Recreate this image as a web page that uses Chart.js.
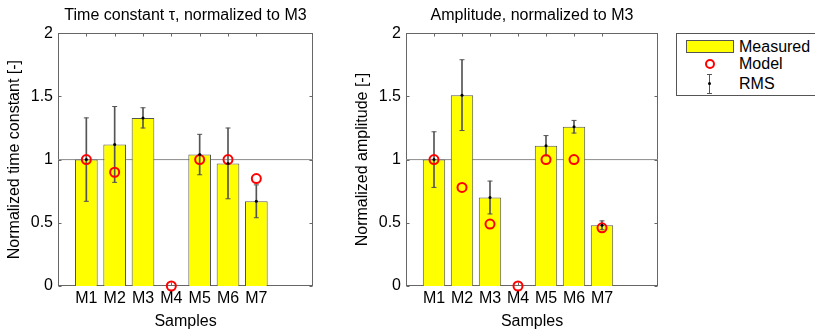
<!DOCTYPE html>
<html>
<head>
<meta charset="utf-8">
<script src="https://cdn.jsdelivr.net/npm/chart.js@4.4.1/dist/chart.umd.min.js"></script>
<style>
  body { margin: 0; background: #fff; width: 815px; height: 331px; position: relative; overflow: hidden;
         font-family: "Liberation Sans", Arial, sans-serif; }
  .plot { position: absolute; top: 0; height: 331px; }
  #legend { position: absolute; left: 676px; top: 33px; width: 150px; height: 63px;
            border: 1px solid #555; box-sizing: border-box; background: #fff; }
  #legend .lbl { position: absolute; left: 62px; font-size: 16px; line-height: 18px; color: #000; }
  #legend .bar { position: absolute; left: 9px; top: 6px; width: 48px; height: 13px;
                 background: #ffff00; border: 1px solid #555; box-sizing: border-box; }
  #legend .ring { position: absolute; left: 28px; top: 25px; width: 10px; height: 10px;
                  border: 2px solid #ff0000; border-radius: 50%; box-sizing: border-box; }
  #legend .stem { position: absolute; left: 32px; top: 40px; width: 1px; height: 20px; background: #555; }
  #legend .cap { position: absolute; left: 30px; width: 5px; height: 1px; background: #555; }
  #legend .dot { position: absolute; left: 31px; top: 48px; width: 3px; height: 3px; background: #000; border-radius: 50%; }
</style>
</head>
<body>
<div class="plot" style="left:0;width:330px"><canvas id="tauChart"></canvas></div>
<div class="plot" style="left:348px;width:320px"><canvas id="ampChart"></canvas></div>
<div id="legend">
  <span class="bar"></span><span class="lbl" style="top:4px">Measured</span>
  <span class="ring"></span><span class="lbl" style="top:21px">Model</span>
  <span class="stem"></span><span class="cap" style="top:40px"></span><span class="cap" style="top:59px"></span>
  <span class="dot"></span><span class="lbl" style="top:41px">RMS</span>
</div>
<script>
// sample names and tick values
const samples = ['M1', 'M2', 'M3', 'M4', 'M5', 'M6', 'M7'];
const yTicks = [0, 0.5, 1, 1.5, 2];

// time constant, normalized to M3
const tauMeasured = [1.0, 1.12, 1.33, 0, 1.04, 0.97, 0.67];
const tauRms      = [0.33, 0.30, 0.08, null, 0.16, 0.28, 0.13];
const tauModel    = [1.0, 0.90, null, 0, 1.0, 1.0, 0.85];

// amplitude, normalized to M3
const ampMeasured = [1.0, 1.51, 0.70, 0, 1.11, 1.26, 0.48];
const ampRms      = [0.22, 0.28, 0.13, null, 0.08, 0.05, 0.035];
const ampModel    = [1.0, 0.78, 0.49, 0, 1.0, 1.0, 0.46];

Chart.defaults.font.family = '"Liberation Sans", Arial, sans-serif';
Chart.defaults.font.size = 16;
Chart.defaults.color = '#000';

// matlab-like box with inward tick marks, title centred over the axes
const boxPlugin = {
    id: 'box',
    afterLayout(chart) {
        const tb = chart.titleBlock;
        if (tb) {
            tb.left = chart.chartArea.left;
            tb.right = chart.chartArea.right;
            tb.width = tb.right - tb.left;
        }
    },
    beforeDatasetsDraw(chart) {
        const { ctx, chartArea: a, scales } = chart;
        ctx.save();
        ctx.strokeStyle = '#666';
        ctx.lineWidth = 1;
        const l = Math.round(a.left) + 0.5, r = Math.round(a.right) - 0.5;
        const t = Math.round(a.top) + 0.5, b = Math.round(a.bottom) - 0.5;
        ctx.strokeRect(l, t, r - l, b - t);
        ctx.beginPath();
        scales.y.ticks.forEach(tk => {
            const y = Math.round(scales.y.getPixelForValue(tk.value)) + 0.5;
            ctx.moveTo(l, y); ctx.lineTo(l + 3, y);
            ctx.moveTo(r, y); ctx.lineTo(r - 3, y);
        });
        scales.x.ticks.forEach(tk => {
            const x = Math.round(scales.x.getPixelForValue(tk.value)) + 0.5;
            ctx.moveTo(x, b); ctx.lineTo(x, b - 3);
            ctx.moveTo(x, t); ctx.lineTo(x, t + 3);
        });
        ctx.stroke();
        ctx.restore();
    }
};

function makeChart(id, title, yTitle, measured, rms, model, padRight) {
    const bars = samples.map((s, i) => ({ x: i + 1, y: measured[i] }));
    const whiskers = [], caps = [], dots = [];
    samples.forEach((s, i) => {
        if (rms[i] == null) return;
        whiskers.push({ x: i + 1, y: [measured[i] - rms[i], measured[i] + rms[i]] });
        caps.push({ x: i + 1, y: measured[i] - rms[i] }, { x: i + 1, y: measured[i] + rms[i] });
        dots.push({ x: i + 1, y: measured[i] });
    });
    const modelPts = samples.map((s, i) => ({ x: i + 1, y: model[i] })).filter(p => p.y != null);

    return new Chart(document.getElementById(id), {
        data: {
            datasets: [
                {   // reference line at 1
                    type: 'line', data: [{ x: 0, y: 1 }, { x: 9, y: 1 }],
                    borderColor: '#8c8c8c', borderWidth: 1, pointRadius: 0, order: 6
                },
                {
                    type: 'bar', label: 'Measured', data: bars,
                    backgroundColor: '#ffff00', borderColor: '#555', borderWidth: 1,
                    categoryPercentage: 0.8, barPercentage: 1, grouped: false, order: 5
                },
                {
                    type: 'bar', label: 'RMS', data: whiskers,
                    backgroundColor: '#555', borderWidth: 0, barThickness: 1, grouped: false, order: 4
                },
                {
                    type: 'line', data: caps, showLine: false,
                    pointStyle: 'line', pointRadius: 2.5, borderColor: '#555', borderWidth: 1, order: 3
                },
                {
                    type: 'line', label: 'Model', data: modelPts, showLine: false, clip: false,
                    pointStyle: 'circle', pointRadius: 4.5, borderColor: '#ff0000', borderWidth: 2,
                    backgroundColor: 'rgba(0,0,0,0)', order: 2
                },
                {
                    type: 'line', data: dots, showLine: false,
                    pointRadius: 1.5, pointBorderWidth: 0, backgroundColor: '#000', order: 1
                }
            ]
        },
        options: {
            responsive: false,
            animation: false,
            events: [],
            layout: { padding: { left: 0, right: padRight, top: 0, bottom: 0 } },
            plugins: {
                legend: { display: false },
                tooltip: { enabled: false },
                title: {
                    display: true, text: title, color: '#000',
                    font: { size: 16, weight: 'normal' }, padding: { top: 6, bottom: 8 }
                }
            },
            scales: {
                x: {
                    type: 'linear', min: 0, max: 9, offset: false,
                    afterBuildTicks: s => { s.ticks = samples.map((n, i) => ({ value: i + 1 })); },
                    afterFit: s => { s.height = 45; },
                    ticks: { callback: v => samples[v - 1], padding: 3, color: '#000', maxRotation: 0, autoSkip: false },
                    grid: { display: false, drawTicks: false },
                    border: { display: false },
                    title: { display: true, text: 'Samples', color: '#000', padding: { top: 0, bottom: 0 } }
                },
                y: {
                    min: 0, max: 2,
                    afterBuildTicks: s => { s.ticks = yTicks.map(v => ({ value: v })); },
                    afterFit: s => { s.width = 58; },
                    ticks: { callback: v => String(v), padding: 5, color: '#000' },
                    grid: { display: false, drawTicks: false },
                    border: { display: false },
                    title: { display: true, text: yTitle, color: '#000', padding: { top: 5, bottom: 0 } }
                }
            }
        },
        plugins: [boxPlugin]
    });
}

const tauCanvas = document.getElementById('tauChart');
tauCanvas.width = 330; tauCanvas.height = 331;
const ampCanvas = document.getElementById('ampChart');
ampCanvas.width = 320; ampCanvas.height = 331;

makeChart('tauChart', 'Time constant \u03c4, normalized to M3', 'Normalized time constant [-]',
          tauMeasured, tauRms, tauModel, 17);
makeChart('ampChart', 'Amplitude, normalized to M3', 'Normalized amplitude [-]',
          ampMeasured, ampRms, ampModel, 10);
</script>
</body>
</html>
